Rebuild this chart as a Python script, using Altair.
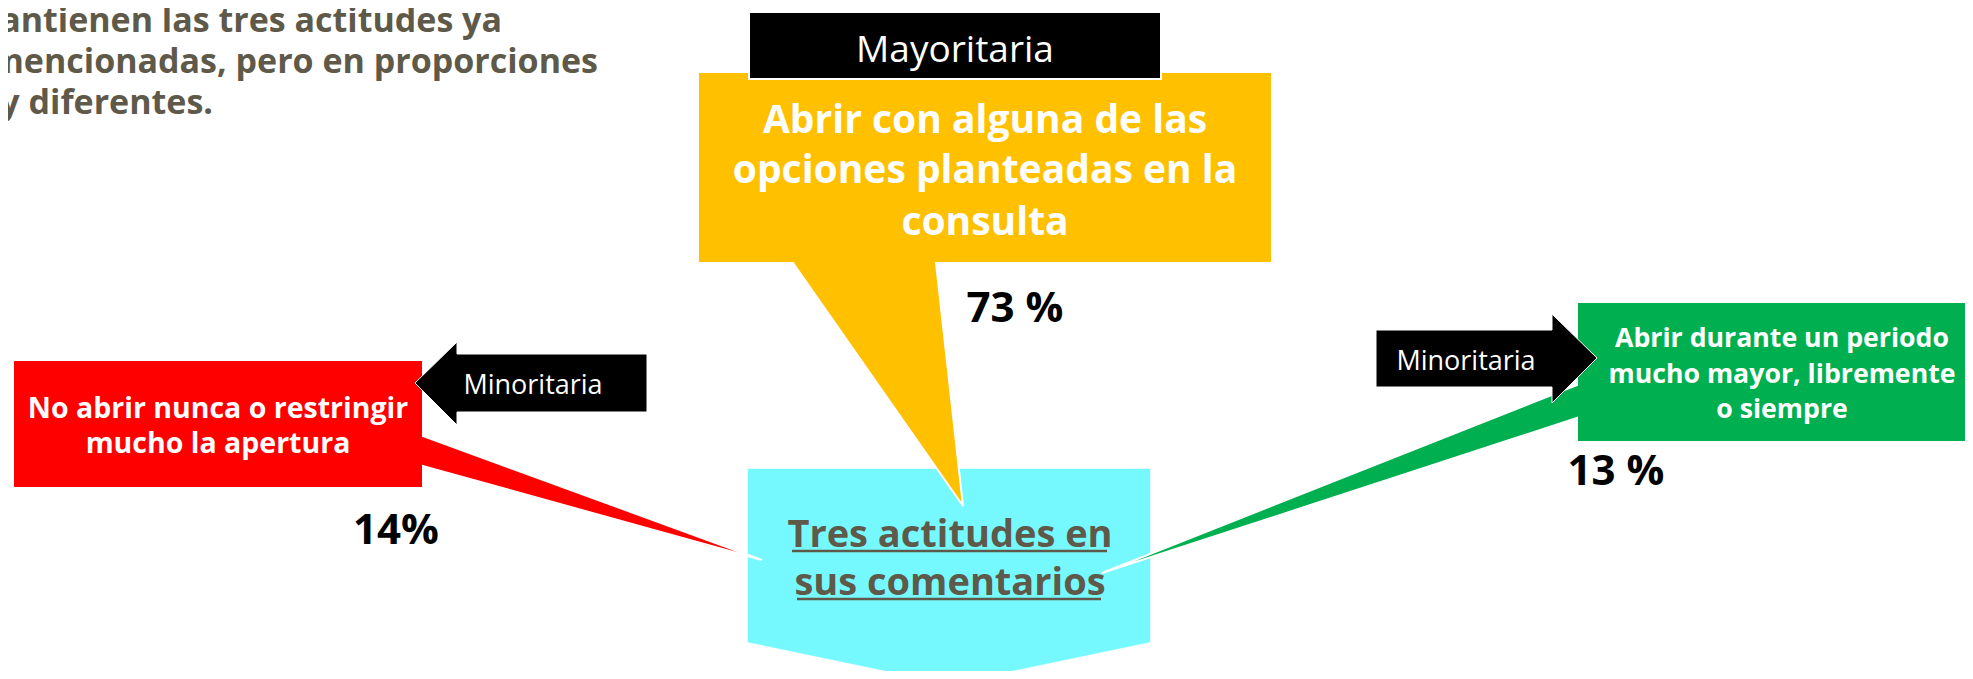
import altair as alt
import pandas as pd

# ---------------- data (diagram coordinates, page pixels) ----------------
cyan_x = [748, 1150, 1150, 949, 748, 748]
cyan_y = [469, 469, 642, 684, 642, 469]

yellow_x = [698, 1272, 1272, 936, 963, 793, 698, 698]
yellow_y = [72, 72, 263, 263, 506, 263, 263, 72]

red_x = [13, 423, 423, 762, 423, 423, 13, 13]
red_y = [360, 360, 436, 560, 466, 488, 488, 360]

green_x = [1577, 1990, 1990, 1577, 1577, 1102, 1577, 1577]
green_y = [302, 302, 442, 442, 418, 573, 385, 302]

may_x = [749, 1161, 1161, 749, 749]
may_y = [12, 12, 79, 79, 12]

larrow_x = [415, 457, 457, 647, 647, 457, 457, 415]
larrow_y = [383, 342, 354, 354, 412, 412, 425, 383]

rarrow_x = [1376, 1552, 1552, 1597, 1552, 1552, 1376, 1376]
rarrow_y = [330, 330, 314, 358, 403, 387, 387, 330]

title_lines = ["mantienen las tres actitudes ya",
               "mencionadas, pero en proporciones",
               "muy diferentes."]
title_x = [502, 598, 213]
title_y = [32, 73, 114]

yellow_lines = ["Abrir con alguna de las", "opciones planteadas en la", "consulta"]
yellow_tx = [985, 985, 985]
yellow_ty = [133, 183, 235]

red_lines = ["No abrir nunca o restringir", "mucho la apertura"]
red_tx = [218, 218]
red_ty = [418, 453]

green_lines = ["Abrir durante un periodo", "mucho mayor, libremente", "o siempre"]
green_tx = [1782, 1782, 1782]
green_ty = [347, 383, 418]

center_lines = ["Tres actitudes en", "sus comentarios"]
center_tx = [950, 950]
center_ty = [547, 595]
underline_x = [792, 797]
underline_x2 = [1107, 1101]
underline_y = [551, 599]

tag_labels = ["Mayoritaria", "Minoritaria", "Minoritaria"]
tag_x = [955, 533, 1466]
tag_y = [62, 394, 370]
tag_size = [37, 27, 27]

pct_labels = ["73 %", "14%", "13 %"]
pct_x = [1015, 396, 1616]
pct_y = [322, 544, 485]

# ---------------- scales ----------------
W, H = 1957, 663
XS = alt.Scale(domain=[8, 8 + W], nice=False, zero=False)
YS = alt.Scale(domain=[8, 8 + H], nice=False, zero=False, reverse=True)
FONT = "Open Sans"
DARK = "#5E5949"


def enc_xy(**extra):
    return dict(x=alt.X("x:Q", scale=XS, axis=None),
                y=alt.Y("y:Q", scale=YS, axis=None), **extra)


def poly(xs, ys, fill, stroke="white", sw=2.0):
    df = pd.DataFrame({"x": xs, "y": ys, "i": list(range(len(xs)))})
    return alt.Chart(df).mark_line(
        fill=fill, stroke=stroke, strokeWidth=sw, clip=True, strokeJoin="miter"
    ).encode(**enc_xy(order=alt.Order("i:Q")))


def texts(lines, xs, ys, size, color, weight="bold", align="center"):
    df = pd.DataFrame({"x": xs, "y": ys, "t": lines})
    return alt.Chart(df).mark_text(
        font=FONT, fontSize=size, fontWeight=weight, color=color,
        align=align, baseline="alphabetic", clip=True
    ).encode(**enc_xy(text="t:N"))


layers = [
    poly(cyan_x, cyan_y, "#75F9FF", stroke="#75F9FF", sw=0.5),
    poly(yellow_x, yellow_y, "#FFC000"),
    poly(red_x, red_y, "#FF0000"),
    poly(green_x, green_y, "#00B050"),
    poly(may_x, may_y, "#000000", sw=2.0),
    poly(larrow_x, larrow_y, "#000000", sw=1.0),
    poly(rarrow_x, rarrow_y, "#000000", sw=1.0),
    texts(title_lines, title_x, title_y, 34, DARK, align="right"),
    texts(yellow_lines, yellow_tx, yellow_ty, 39, "white"),
    texts(red_lines, red_tx, red_ty, 28.5, "white"),
    texts(green_lines, green_tx, green_ty, 26.7, "white"),
    texts(center_lines, center_tx, center_ty, 38, DARK),
]

for lab, x, y, s in zip(tag_labels, tag_x, tag_y, tag_size):
    layers.append(texts([lab], [x], [y], s, "white", weight="normal"))

layers.append(texts(pct_labels, pct_x, pct_y, 42, "black"))

ul = pd.DataFrame({"x": underline_x, "x2": underline_x2, "y": underline_y})
layers.append(
    alt.Chart(ul).mark_rule(color=DARK, strokeWidth=2.5).encode(
        x=alt.X("x:Q", scale=XS, axis=None), x2="x2:Q",
        y=alt.Y("y:Q", scale=YS, axis=None))
)

chart = alt.layer(*layers).properties(
    width=W, height=H,
    autosize=alt.AutoSizeParams(type="none"),
    padding=0,
    background="white",
).configure_view(stroke=None)

chart.save("out.html", embed_options={"renderer": "svg", "actions": False})
